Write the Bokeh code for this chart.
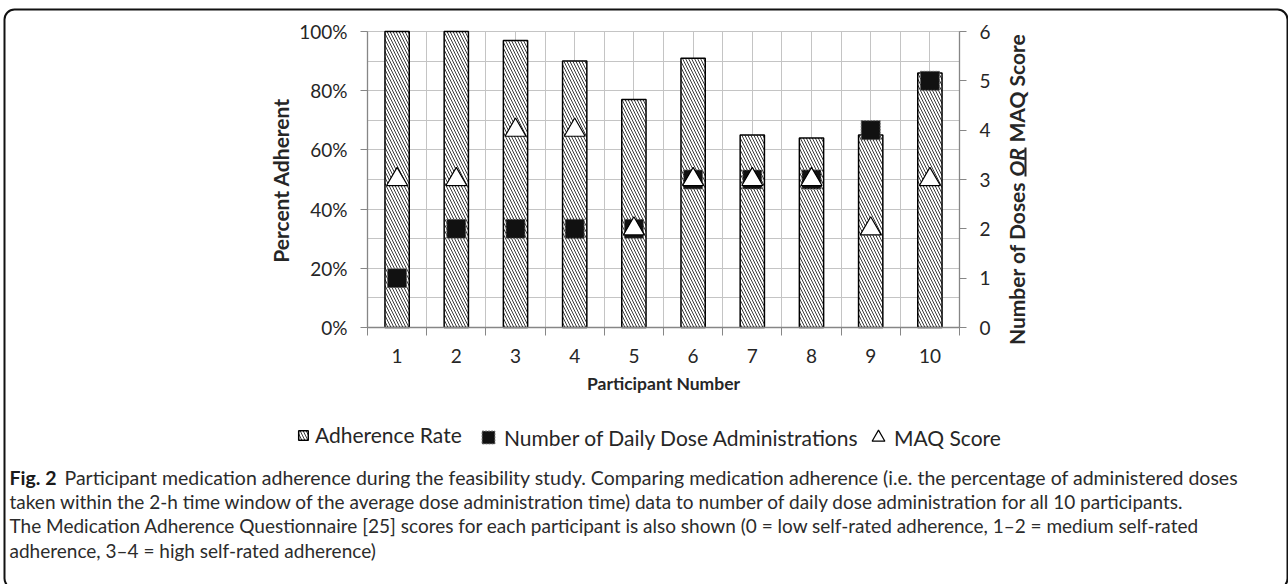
import math
from bokeh.plotting import figure
from bokeh.models import (ColumnDataSource, Range1d, LinearAxis, FixedTicker, Label, Grid,
                          Legend, LegendItem, BoxAnnotation)
from bokeh.embed import file_html
from bokeh.resources import INLINE

# ---------------- data ----------------
participants = [1, 2, 3, 4, 5, 6, 7, 8, 9, 10]
adherence_pct = [100, 100, 97, 90, 77, 91, 65, 64, 65, 86]
daily_doses = [1, 2, 2, 2, 2, 3, 3, 3, 4, 5]
maq_score = [3, 3, 4, 4, 2, 3, 3, 3, 2, 3]
pct_ticks = [0, 20, 40, 60, 80, 100]
pct_minor = [0, 10, 20, 30, 40, 50, 60, 70, 80, 90, 100]
pct_labels = ["0%", "20%", "40%", "60%", "80%", "100%"]
right_ticks = [0, 1, 2, 3, 4, 5, 6]
series_names = ["Adherence Rate", "Number of Daily Dose Administrations", "MAQ Score"]
x_title = "Participant Number"
y_title = "Percent Adherent"
right_title_parts = ["Number of Doses ", "OR", "MAQ Score"]
caption_bold = "Fig. 2"
caption_lines = [
    "Participant medication adherence during the feasibility study. Comparing medication adherence (i.e. the percentage of administered doses",
    "taken within the 2-h time window of the average dose administration time) data to number of daily dose administration for all 10 participants.",
    "The Medication Adherence Questionnaire [25] scores for each participant is also shown (0 = low self-rated adherence, 1–2 = medium self-rated",
    "adherence, 3–4 = high self-rated adherence)",
]

# ---------------- layout (pixels) ----------------
W, H = 1288, 584
PL, PR, PT, PB = 367, 959, 31, 327          # plot-area edges on the page
X0, X1 = 0.5, 10.5                           # category axis extent
Y0, Y1 = 0, 100                              # percent axis extent
R0, R1 = 0, 6                                # right axis extent

xpp = (X1 - X0) / (PR - PL)
ypp = (Y1 - Y0) / (PB - PT)
x_range = Range1d(X0 - PL * xpp, X1 + (W - PR) * xpp)
y_range = Range1d(Y0 - (H - PB) * ypp, Y1 + PT * ypp)
rscale = (R1 - R0) / (Y1 - Y0)
r_range = Range1d(y_range.start * rscale, y_range.end * rscale)


def Y(y_page):
    return H - y_page


FONT = "Lato"
TXT = "#262626"
AXIS = "#868686"
GRID = "#c4c4c4"

src = ColumnDataSource(dict(x=participants, adh=adherence_pct, dose=daily_doses, maq=maq_score))

p = figure(width=W, height=H, min_border=0, x_range=x_range, y_range=y_range,
           x_axis_type=None, y_axis_type=None, output_backend="svg", toolbar_location=None)
p.outline_line_color = None
p.background_fill_color = "white"
p.border_fill_color = "white"
p.extra_y_ranges = {"right": r_range}

xt = FixedTicker(ticks=participants, minor_ticks=[i + 0.5 for i in range(0, 11)])
yt = FixedTicker(ticks=pct_ticks, minor_ticks=pct_minor)

p.add_layout(Grid(dimension=0, ticker=xt, bounds=(X0 - 1, X1 + 1), cross_bounds=(Y0, Y1),
                  grid_line_color=GRID, minor_grid_line_color=GRID))
p.add_layout(Grid(dimension=1, ticker=yt, bounds=(Y0 - 1, Y1 + 1), cross_bounds=(X0, X1),
                  grid_line_color=GRID, minor_grid_line_color=GRID))

yax = LinearAxis(fixed_location=X0, bounds=(Y0, Y1), ticker=yt,
                 major_label_overrides={t: l for t, l in zip(pct_ticks, pct_labels)})
xax = LinearAxis(fixed_location=Y0, bounds=(X0, X1), ticker=xt)
rax = LinearAxis(fixed_location=X1, y_range_name="right", bounds=(R0, R1),
                 ticker=FixedTicker(ticks=right_ticks))
p.add_layout(yax, "left")
p.add_layout(xax, "below")
p.add_layout(rax, "right")

for ax in [xax, yax, rax]:
    ax.axis_line_color = AXIS
    ax.axis_line_width = 1.3
    ax.major_tick_line_color = AXIS
    ax.minor_tick_line_color = AXIS
    ax.major_label_text_font = FONT
    ax.major_label_text_font_size = "19px"
    ax.major_label_text_color = TXT
    ax.major_tick_in = 0
    ax.minor_tick_in = 0
    ax.minor_tick_out = 0
    ax.major_tick_out = 7
    ax.major_label_standoff = 13

xax.major_tick_out = 0
xax.minor_tick_out = 8
xax.major_label_standoff = 13

# ---------------- glyphs ----------------
bars = p.vbar(x="x", top="adh", width=0.41, source=src, fill_color="white",
              line_color="black", line_width=1.5, hatch_pattern="\\", hatch_color="#222222",
              hatch_scale=6, hatch_weight=0.9)
squares = p.scatter(x="x", y="dose", source=src, y_range_name="right", marker="square",
                    size=19, fill_color="#111111", line_color="#666666", line_width=1,
                    line_dash="2 1")
tris = p.scatter(x="x", y="maq", source=src, y_range_name="right", marker="triangle",
                 size=21, fill_color="white", line_color="black", line_width=1.2)

# ---------------- legend (one Legend per entry for exact spacing) ----------------
def mk_legend(item_label, rend, loc, gw, gh, standoff):
    lg = Legend(items=[LegendItem(label=item_label, renderers=[rend])], location=loc,
                orientation="horizontal", glyph_width=gw, glyph_height=gh,
                label_standoff=standoff, label_height=20, padding=0, margin=0,
                border_line_color=None, background_fill_alpha=0,
                label_text_font=FONT, label_text_font_size="21px", label_text_color=TXT)
    p.add_layout(lg)
    return lg

leg_y = Y(437)
mk_legend(series_names[0], bars, (297, leg_y - 10), 12, 12, 6)
mk_legend(series_names[1], squares, (472, leg_y - 16), 32, 32, -4)
mk_legend(series_names[2], tris, (862, leg_y - 16), 32, 32, -4)

# ---------------- axis titles ----------------
p.add_layout(Label(x=280, y=Y(180), x_units="screen", y_units="screen", text=y_title,
                   angle=math.pi / 2, text_align="center", text_baseline="middle",
                   text_font=FONT, text_font_style="bold", text_font_size="21px", text_color=TXT))
p.add_layout(Label(x=663, y=Y(383), x_units="screen", y_units="screen", text=x_title,
                   text_align="center", text_baseline="middle",
                   text_font=FONT, text_font_style="bold", text_font_size="17.5px", text_color=TXT))

rx = 1016
split_lo, split_hi, maq_start = 176, 147, 142
p.add_layout(Label(x=rx, y=Y(split_lo), x_units="screen", y_units="screen", text=right_title_parts[0],
                   angle=math.pi / 2, text_align="right", text_baseline="middle",
                   text_font=FONT, text_font_style="bold", text_font_size="21px", text_color=TXT))
p.add_layout(Label(x=rx, y=Y(split_lo), x_units="screen", y_units="screen", text=right_title_parts[1],
                   angle=math.pi / 2, text_align="left", text_baseline="middle",
                   text_font=FONT, text_font_style="bold italic", text_font_size="21px", text_color=TXT))
p.add_layout(Label(x=rx, y=Y(maq_start), x_units="screen", y_units="screen", text=right_title_parts[2],
                   angle=math.pi / 2, text_align="left", text_baseline="middle",
                   text_font=FONT, text_font_style="bold", text_font_size="21px", text_color=TXT))
p.add_layout(BoxAnnotation(left=rx + 8, right=rx + 10, top=Y(split_hi), bottom=Y(split_lo),
                           left_units="screen", right_units="screen", top_units="screen",
                           bottom_units="screen", fill_color=TXT, fill_alpha=1, line_color=None))

# ---------------- outer rounded frame ----------------
p.add_layout(BoxAnnotation(left=4, right=1287, top=Y(9), bottom=Y(588),
                           left_units="screen", right_units="screen", top_units="screen",
                           bottom_units="screen", fill_alpha=0, line_color="#111111",
                           line_alpha=1, line_width=2, border_radius=10))

# ---------------- caption ----------------
cap_x = 9
cap_y = [477, 501, 525, 550]
cap_sizes = ["19.5px", "19px", "19px", "19px"]
p.add_layout(Label(x=cap_x, y=Y(cap_y[0]), x_units="screen", y_units="screen", text=caption_bold,
                   text_baseline="middle", text_font=FONT, text_font_style="bold",
                   text_font_size="19.5px", text_color="#1a1a1a"))
for i, line in enumerate(caption_lines):
    xoff = cap_x + (55 if i == 0 else 0)
    p.add_layout(Label(x=xoff, y=Y(cap_y[i]), x_units="screen", y_units="screen", text=line,
                       text_baseline="middle", text_font=FONT, text_font_size=cap_sizes[i],
                       text_color="#2b2b2b"))

open("out.html", "w").write(file_html(p, INLINE))
